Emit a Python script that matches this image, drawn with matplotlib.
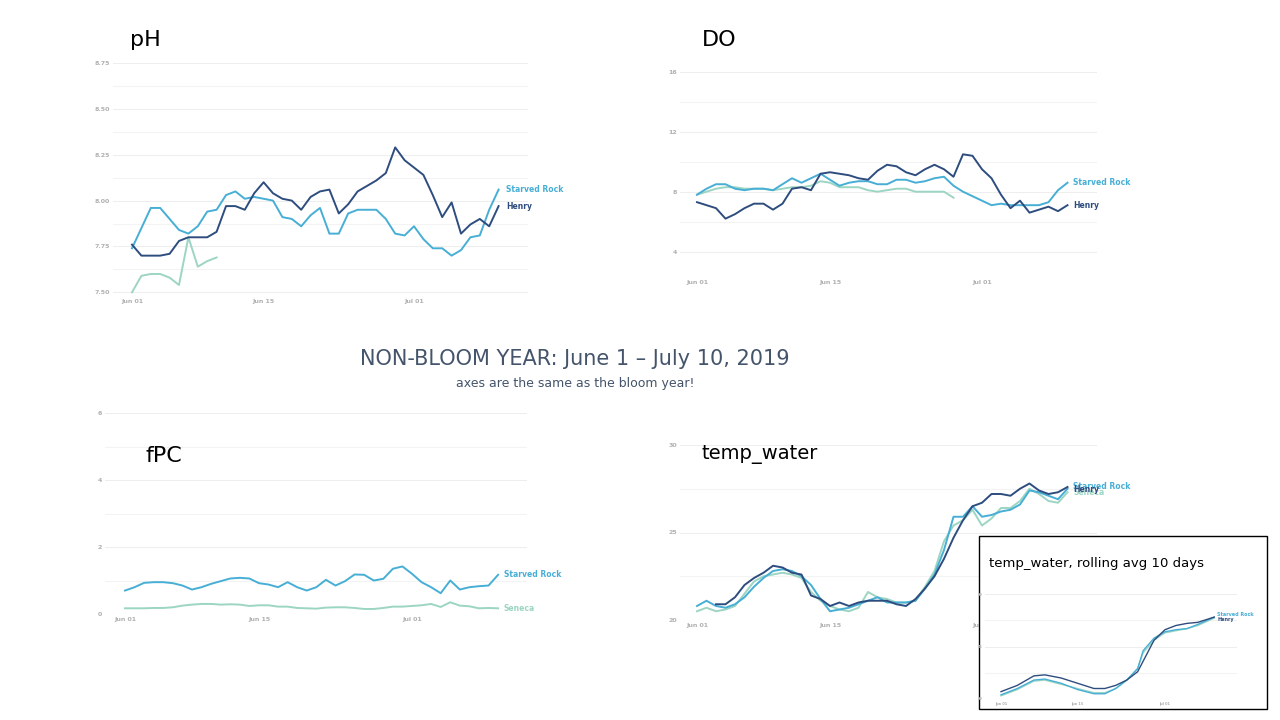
import matplotlib
matplotlib.use("Agg")
import matplotlib.pyplot as plt
import matplotlib.patches as mpatches
import numpy as np

W, H = 1280, 720
C_SR, C_HE, C_SE = "#47aed5", "#2e4d7e", "#9cd5c3"

days = list(range(40))
tick_days = [0, 14, 30]
tick_labels = ["Jun 01", "Jun 15", "Jul 01"]

ph_sr = [7.74,7.85,7.96,7.96,7.90,7.84,7.82,7.86,7.94,7.95,8.03,8.05,8.01,8.02,8.01,8.00,7.91,7.90,7.86,7.92,
         7.96,7.82,7.82,7.93,7.95,7.95,7.95,7.90,7.82,7.81,7.86,7.79,7.74,7.74,7.70,7.73,7.80,7.81,7.95,8.06]
ph_he = [7.76,7.70,7.70,7.70,7.71,7.78,7.80,7.80,7.80,7.83,7.97,7.97,7.95,8.04,8.10,8.04,8.01,8.00,7.95,8.02,
         8.05,8.06,7.93,7.98,8.05,8.08,8.11,8.15,8.29,8.22,8.18,8.14,8.03,7.91,7.99,7.82,7.87,7.90,7.86,7.97]
ph_se = [7.50,7.59,7.60,7.60,7.58,7.54,7.80,7.64,7.67,7.69]

do_sr = [7.8,8.2,8.5,8.5,8.2,8.1,8.2,8.2,8.1,8.5,8.9,8.6,8.9,9.2,8.8,8.4,8.6,8.7,8.7,8.5,
         8.5,8.8,8.8,8.6,8.7,8.9,9.0,8.4,8.0,7.7,7.4,7.1,7.2,7.1,7.1,7.1,7.1,7.3,8.1,8.6]
do_he = [7.3,7.1,6.9,6.2,6.5,6.9,7.2,7.2,6.8,7.2,8.2,8.3,8.1,9.2,9.3,9.2,9.1,8.9,8.8,9.4,
         9.8,9.7,9.3,9.1,9.5,9.8,9.5,9.0,10.5,10.4,9.5,8.9,7.8,6.9,7.4,6.6,6.8,7.0,6.7,7.1]
do_se = [7.8,8.0,8.2,8.3,8.3,8.2,8.2,8.2,8.1,8.2,8.3,8.3,8.4,8.7,8.6,8.3,8.3,8.3,8.1,8.0,
         8.1,8.2,8.2,8.0,8.0,8.0,8.0,7.6]

fpc_sr = [0.70,0.80,0.93,0.95,0.95,0.92,0.85,0.73,0.80,0.90,0.98,1.06,1.08,1.06,0.92,0.88,0.80,0.95,0.80,0.70,
          0.80,1.02,0.85,0.98,1.18,1.17,1.00,1.05,1.35,1.42,1.20,0.95,0.80,0.62,1.00,0.73,0.80,0.83,0.85,1.17]
fpc_se = [0.17,0.17,0.17,0.18,0.18,0.20,0.25,0.28,0.30,0.30,0.28,0.29,0.28,0.24,0.26,0.26,0.22,0.22,0.18,0.17,
          0.16,0.19,0.20,0.20,0.18,0.15,0.15,0.18,0.22,0.22,0.24,0.26,0.30,0.21,0.35,0.25,0.23,0.17,0.18,0.17]

tw_sr = [20.8,21.1,20.8,20.7,20.9,21.3,21.9,22.4,22.8,22.9,22.8,22.5,22.0,21.2,20.5,20.6,20.7,20.9,21.1,21.3,
         21.0,21.0,21.0,21.1,21.8,22.6,24.0,25.9,25.9,26.5,25.9,26.0,26.2,26.3,26.6,27.4,27.3,27.1,26.9,27.5]
tw_he_days = list(range(2, 40))
tw_he = [20.9,20.9,21.3,22.0,22.4,22.7,23.1,23.0,22.7,22.6,21.4,21.2,20.8,21.0,20.8,21.0,21.1,21.1,21.1,20.9,
         20.8,21.2,21.8,22.5,23.5,24.7,25.7,26.5,26.7,27.2,27.2,27.1,27.5,27.8,27.4,27.2,27.3,27.6]
tw_se = [20.5,20.7,20.5,20.6,20.8,21.5,22.2,22.5,22.6,22.7,22.6,22.4,21.6,21.1,20.8,20.6,20.5,20.7,21.6,21.3,
         21.2,21.0,21.0,21.1,21.9,22.8,24.5,25.4,25.7,26.3,25.4,25.8,26.4,26.4,26.8,27.5,27.2,26.8,26.7,27.3]

roll_days = [0,3,6,8,11,14,17,19,21,23,25,26,28,30,32,34,36,39]
roll_he = [20.7,21.3,22.2,22.3,22.0,21.5,21.0,21.0,21.3,21.8,22.6,23.6,25.6,26.6,27.0,27.2,27.3,27.8]
roll_sr = [20.4,21.0,21.8,21.9,21.5,20.9,20.5,20.5,21.0,21.8,22.9,24.6,25.8,26.4,26.6,26.7,27.1,27.8]
roll_se = [20.3,20.9,21.7,21.8,21.4,21.0,20.6,20.6,21.0,21.8,22.9,24.4,25.6,26.3,26.5,26.7,27.0,27.7]

fig = plt.figure(figsize=(12.8, 7.2), dpi=100)

def make_ax(x0, x1, y0, y1, xlim, ylim):
    ax = fig.add_axes([x0 / W, 1 - y1 / H, (x1 - x0) / W, (y1 - y0) / H])
    ax.set_xlim(*xlim); ax.set_ylim(*ylim)
    for s in ax.spines.values():
        s.set_visible(False)
    ax.patch.set_alpha(0)
    return ax

def style(ax, yticks, minor, fs=4.5, fmt="{:g}"):
    ax.set_yticks(yticks)
    ax.set_yticklabels([fmt.format(t) for t in yticks], fontsize=fs, color="#b0b0b0", fontweight="bold")
    ax.set_yticks(minor, minor=True)
    ax.set_xticks(tick_days)
    ax.set_xticklabels(tick_labels, fontsize=fs, color="#b0b0b0", fontweight="bold")
    ax.tick_params(which="both", length=0, pad=2)
    ax.grid(axis="y", which="major", color="#eeeeee", lw=0.8)
    ax.grid(axis="y", which="minor", color="#f3f3f3", lw=0.8)
    ax.set_axisbelow(True)

def lab(ax, x, y, t, c, fs=5.5):
    ax.text(x, y, t, color=c, fontsize=fs, fontweight="bold", va="center", ha="left", clip_on=False)

# pH
ppd = (414 - 132) / 30
ax = make_ax(113, 528, 63, 296, ((113-132)/ppd, (528-132)/ppd), (7.50, 8.75))
style(ax, [7.50, 7.75, 8.00, 8.25, 8.50, 8.75], [7.625, 7.875, 8.125, 8.375, 8.625], fmt="{:.2f}")
ax.set_ylim(7.48, 8.75)
ax.plot(days[:len(ph_se)], ph_se, color=C_SE, lw=1.4)
ax.plot(days, ph_sr, color=C_SR, lw=1.4)
ax.plot(days, ph_he, color=C_HE, lw=1.4)
lab(ax, 39.8, 8.06, "Starved Rock", C_SR); lab(ax, 39.8, 7.97, "Henry", C_HE)
fig.text(130/W, 1-40/H, "pH", fontsize=16, va="center")

# DO
ppd2 = (982 - 697) / 30
ax = make_ax(680, 1097, 72, 277, ((680-697)/ppd2, (1097-697)/ppd2), (4, 16))
style(ax, [4, 8, 12, 16], [6, 10, 14])
ax.set_ylim(2.3, 16)
ax.plot(days[:len(do_se)], do_se, color=C_SE, lw=1.4)
ax.plot(days, do_sr, color=C_SR, lw=1.4)
ax.plot(days, do_he, color=C_HE, lw=1.4)
lab(ax, 39.6, 8.6, "Starved Rock", C_SR); lab(ax, 39.6, 7.1, "Henry", C_HE)
fig.text(702/W, 1-40/H, "DO", fontsize=16, va="center")

# fPC
ppd3 = (412 - 125) / 30
ax = make_ax(105, 527, 413, 614, ((105-125)/ppd3, (527-125)/ppd3), (0, 6))
style(ax, [0, 2, 4, 6], [1, 3, 5])
ax.plot(days, fpc_se, color=C_SE, lw=1.4)
ax.plot(days, fpc_sr, color=C_SR, lw=1.4)
lab(ax, 39.6, 1.17, "Starved Rock", C_SR); lab(ax, 39.6, 0.15, "Seneca", C_SE)
fig.text(146/W, 1-456/H, "fPC", fontsize=16, va="center")

# temp_water
ax = make_ax(680, 1097, 445, 620, ((680-697)/ppd2, (1097-697)/ppd2), (20, 30))
style(ax, [20, 25, 30], [22.5, 27.5])
ax.plot(days, tw_se, color=C_SE, lw=1.4)
ax.plot(days, tw_sr, color=C_SR, lw=1.4)
ax.plot(tw_he_days, tw_he, color=C_HE, lw=1.4)
lab(ax, 39.6, 27.3, "Seneca", C_SE)
lab(ax, 39.6, 27.65, "Starved Rock", C_SR)
lab(ax, 39.6, 27.45, "Henry", C_HE)
fig.text(702/W, 1-455/H, "temp_water", fontsize=14, va="center")

# inset
box = mpatches.Rectangle((979/W, 1-709/H), (1267-979)/W, (709-536)/H, transform=fig.transFigure,
                         facecolor="white", edgecolor="black", lw=1, zorder=5)
fig.patches.append(box)
ppd4 = (1165 - 1001) / 30
ax = make_ax(985, 1237, 594, 699, ((985-1001)/ppd4, (1237-1001)/ppd4), (20, 30))
ax.set_zorder(6)
style(ax, [20, 25, 30], [22.5, 27.5], fs=2.5)
ax.plot(roll_days, roll_se, color=C_SE, lw=1.0)
ax.plot(roll_days, roll_sr, color=C_SR, lw=1.0)
ax.plot(roll_days, roll_he, color=C_HE, lw=1.0)
lab(ax, 39.6, 28.0, "Starved Rock", C_SR, fs=3.5); lab(ax, 39.6, 27.6, "Henry", C_HE, fs=3.5)
fig.text(989/W, 1-563/H, "temp_water, rolling avg 10 days", fontsize=9.5, va="center", zorder=7)

fig.text(575/W, 1-359/H, "NON-BLOOM YEAR: June 1 \u2013 July 10, 2019", fontsize=15, color="#44546a",
         ha="center", va="center")
fig.text(575/W, 1-383/H, "axes are the same as the bloom year!", fontsize=9, color="#44546a",
         ha="center", va="center")

fig.savefig("out.png", dpi=100)
